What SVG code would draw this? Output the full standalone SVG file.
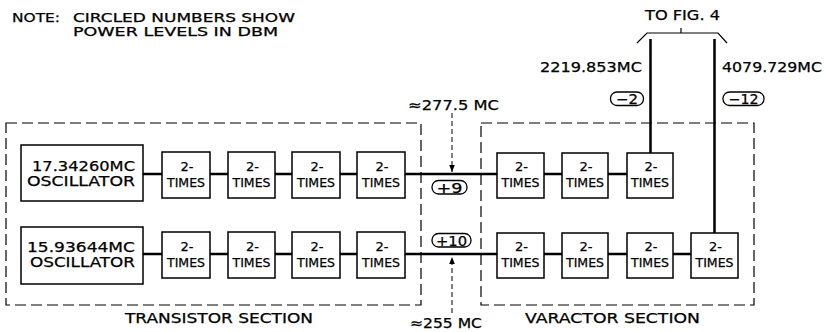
<svg xmlns="http://www.w3.org/2000/svg" width="825" height="332" viewBox="0 0 825 332">
<style>
text{font-family:"DejaVu Sans","Liberation Sans",sans-serif;fill:#000;stroke:#000;stroke-width:0.25;font-size:13.5px}
.box{fill:#fff;stroke:#000;stroke-width:1.5}
.sec{fill:none;stroke:#000;stroke-width:1.2;stroke-dasharray:11 5}
.wire{fill:none;stroke:#000;stroke-width:2.5}
.thin{fill:none;stroke:#000;stroke-width:1.2}
.dash{fill:none;stroke:#000;stroke-width:1;stroke-dasharray:5 3}
.oval{fill:#fff;stroke:#000;stroke-width:1.3}
.c{text-anchor:middle}
.t{font-size:13px}
.n{font-size:12px}
</style>
<defs>
<marker id="ah" viewBox="0 0 10 10" refX="10" refY="5" markerWidth="7" markerHeight="7" markerUnits="userSpaceOnUse" orient="auto">
<path d="M0,1 L10,5 L0,9 z" fill="#000"/>
</marker>
</defs>
<rect width="825" height="332" fill="#fff"/>

<g id="note">
<text class="n" x="12" y="21.5" textLength="48" lengthAdjust="spacingAndGlyphs">NOTE:</text>
<text class="n" x="73" y="21.5" textLength="222" lengthAdjust="spacingAndGlyphs">CIRCLED NUMBERS SHOW</text>
<text class="n" x="73" y="36" textLength="205" lengthAdjust="spacingAndGlyphs">POWER LEVELS IN DBM</text>
</g>

<g id="transistor-section">
<rect class="sec" x="6" y="123" width="415" height="182"/>
<text x="125" y="323" textLength="188" lengthAdjust="spacingAndGlyphs">TRANSISTOR SECTION</text>
</g>
<g id="varactor-section">
<rect class="sec" x="481" y="123" width="273" height="182"/>
<text x="525" y="323" textLength="175" lengthAdjust="spacingAndGlyphs">VARACTOR SECTION</text>
</g>

<g id="connectors">
<path class="wire" d="M143,174H497 M544,174H562 M608,174H627"/>
<path class="wire" d="M143,254H497 M544,254H562 M608,254H627 M673,254H691"/>
<path class="wire" d="M650.5,153V39 M714.5,233V39"/>
<path class="thin" d="M637,43L647,33H718L727,43 M681,33V28"/>
<path class="dash" d="M452,113V172" marker-end="url(#ah)"/>
<path class="dash" d="M452,313V257" marker-end="url(#ah)"/>
</g>

<g id="labels">
<text x="645" y="20" textLength="75" lengthAdjust="spacingAndGlyphs">TO FIG. 4</text>
<text x="540" y="72" textLength="102" lengthAdjust="spacingAndGlyphs">2219.853MC</text>
<text x="722" y="72" textLength="100" lengthAdjust="spacingAndGlyphs">4079.729MC</text>
<text x="408" y="110" textLength="91" lengthAdjust="spacingAndGlyphs">≈277.5 MC</text>
<text x="410" y="328" textLength="72" lengthAdjust="spacingAndGlyphs">≈255 MC</text>
</g>

<g id="p-2"><rect class="oval" x="610.5" y="92" width="33" height="13.5" rx="6.5"/><text class="c" x="627" y="103.5" textLength="22" lengthAdjust="spacingAndGlyphs">−2</text></g>
<g id="p-12"><rect class="oval" x="723" y="92" width="41" height="13.5" rx="6.5"/><text class="c" x="743.5" y="103.5" textLength="30" lengthAdjust="spacingAndGlyphs">−12</text></g>
<g id="p9"><rect class="oval" x="432" y="180.5" width="35" height="13.5" rx="6.5"/><text class="c" x="449.5" y="192.5" textLength="26" lengthAdjust="spacingAndGlyphs">+9</text></g>
<g id="p10"><rect class="oval" x="432" y="233.5" width="39" height="13.5" rx="6.5"/><text class="c" x="451.5" y="245.5" textLength="31" lengthAdjust="spacingAndGlyphs">+10</text></g>

<g id="osc1"><rect class="box" x="21" y="145" width="122" height="56"/>
<text x="32" y="171" textLength="103" lengthAdjust="spacingAndGlyphs">17.34260MC</text>
<text x="27" y="185.5" textLength="108" lengthAdjust="spacingAndGlyphs">OSCILLATOR</text></g>
<g id="osc2"><rect class="box" x="21" y="227" width="122" height="57"/>
<text x="27" y="252" textLength="108" lengthAdjust="spacingAndGlyphs">15.93644MC</text>
<text x="30" y="266.5" textLength="105" lengthAdjust="spacingAndGlyphs">OSCILLATOR</text></g>

<g id="t1a"><rect class="box" x="162" y="152" width="48" height="46"/><text class="c t" x="187" y="171">2-</text><text class="c t" x="186" y="187" textLength="38" lengthAdjust="spacingAndGlyphs">TIMES</text></g>
<g id="t1b"><rect class="box" x="228" y="152" width="47" height="46"/><text class="c t" x="252.5" y="171">2-</text><text class="c t" x="251.5" y="187" textLength="38" lengthAdjust="spacingAndGlyphs">TIMES</text></g>
<g id="t1c"><rect class="box" x="292" y="152" width="48" height="46"/><text class="c t" x="317" y="171">2-</text><text class="c t" x="316" y="187" textLength="38" lengthAdjust="spacingAndGlyphs">TIMES</text></g>
<g id="t1d"><rect class="box" x="357" y="152" width="48" height="46"/><text class="c t" x="382" y="171">2-</text><text class="c t" x="381" y="187" textLength="38" lengthAdjust="spacingAndGlyphs">TIMES</text></g>
<g id="v1a"><rect class="box" x="497" y="153" width="47" height="45"/><text class="c t" x="521.5" y="171">2-</text><text class="c t" x="520.5" y="187" textLength="38" lengthAdjust="spacingAndGlyphs">TIMES</text></g>
<g id="v1b"><rect class="box" x="562" y="153" width="46" height="45"/><text class="c t" x="586" y="171">2-</text><text class="c t" x="585" y="187" textLength="38" lengthAdjust="spacingAndGlyphs">TIMES</text></g>
<g id="v1c"><rect class="box" x="627" y="153" width="46" height="45"/><text class="c t" x="651" y="171">2-</text><text class="c t" x="650" y="187" textLength="38" lengthAdjust="spacingAndGlyphs">TIMES</text></g>

<g id="t2a"><rect class="box" x="162" y="232" width="48" height="46"/><text class="c t" x="187" y="251">2-</text><text class="c t" x="186" y="267" textLength="38" lengthAdjust="spacingAndGlyphs">TIMES</text></g>
<g id="t2b"><rect class="box" x="228" y="232" width="47" height="46"/><text class="c t" x="252.5" y="251">2-</text><text class="c t" x="251.5" y="267" textLength="38" lengthAdjust="spacingAndGlyphs">TIMES</text></g>
<g id="t2c"><rect class="box" x="292" y="232" width="48" height="46"/><text class="c t" x="317" y="251">2-</text><text class="c t" x="316" y="267" textLength="38" lengthAdjust="spacingAndGlyphs">TIMES</text></g>
<g id="t2d"><rect class="box" x="357" y="232" width="48" height="46"/><text class="c t" x="382" y="251">2-</text><text class="c t" x="381" y="267" textLength="38" lengthAdjust="spacingAndGlyphs">TIMES</text></g>
<g id="v2a"><rect class="box" x="497" y="233" width="47" height="45"/><text class="c t" x="521.5" y="251">2-</text><text class="c t" x="520.5" y="267" textLength="38" lengthAdjust="spacingAndGlyphs">TIMES</text></g>
<g id="v2b"><rect class="box" x="562" y="233" width="46" height="45"/><text class="c t" x="586" y="251">2-</text><text class="c t" x="585" y="267" textLength="38" lengthAdjust="spacingAndGlyphs">TIMES</text></g>
<g id="v2c"><rect class="box" x="627" y="233" width="46" height="45"/><text class="c t" x="651" y="251">2-</text><text class="c t" x="650" y="267" textLength="38" lengthAdjust="spacingAndGlyphs">TIMES</text></g>
<g id="v2d"><rect class="box" x="691" y="233" width="47" height="45"/><text class="c t" x="715.5" y="251">2-</text><text class="c t" x="714.5" y="267" textLength="38" lengthAdjust="spacingAndGlyphs">TIMES</text></g>
</svg>
